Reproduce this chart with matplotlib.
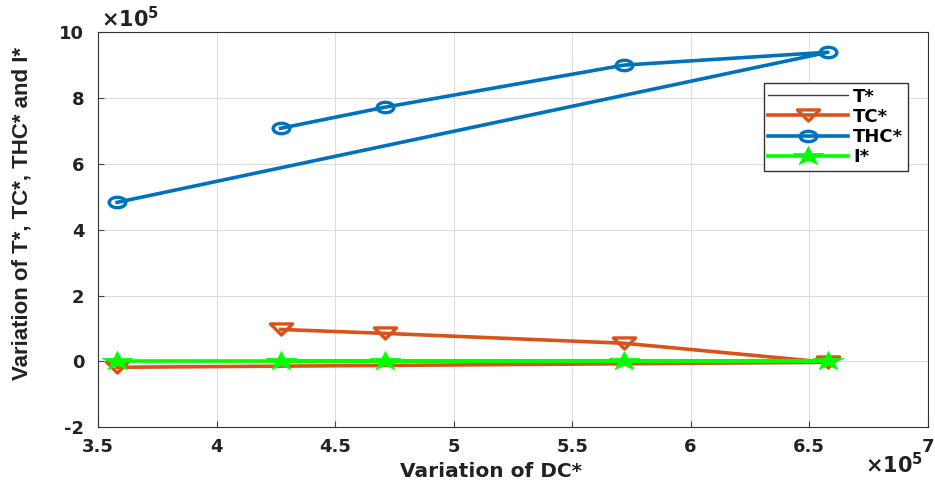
import matplotlib.pyplot as plt
from matplotlib.ticker import FuncFormatter
from matplotlib.markers import MarkerStyle
from matplotlib.transforms import Affine2D

plt.rcParams['font.family'] = ['DejaVu Sans']
plt.rcParams['font.weight'] = 'bold'
plt.rcParams['axes.labelweight'] = 'bold'
plt.rcParams['mathtext.default'] = 'bf'

# --- Datos ---
dc = [427000, 471000, 572000, 658000, 358000]
t_star = [0, 0, 0, 0, 0]
tc_star = [97000, 85000, 55000, -3000, -18000]
thc_star = [708000, 772000, 900000, 939000, 483000]
i_star = [0, 0, 0, 0, 0]

x_ticks = [350000, 400000, 450000, 500000, 550000, 600000, 650000, 700000]
y_ticks = [-200000, 0, 200000, 400000, 600000, 800000, 1000000]


def marcador_ancho(simbolo, factor=1.6):
    # la imagen original esta estirada en horizontal
    m = MarkerStyle(simbolo)
    return m.get_path().transformed(m.get_transform() + Affine2D().scale(factor, 1))


fig = plt.figure(figsize=(9.35, 4.8), dpi=100)
ax = fig.add_axes([0.105, 0.11, 0.887, 0.823])

ax.plot(dc, t_star, '-', color='#444444', lw=1, label='T*', zorder=2)
ax.plot(dc, tc_star, '-', marker=marcador_ancho('v', 2.0), color='#D95319', lw=2.6,
        ms=16, mfc='none', mew=2.4, label='TC*', zorder=3)
ax.plot(dc, thc_star, '-', marker=marcador_ancho('o', 1.6), color='#0072BD', lw=2.6,
        ms=12, mfc='none', mew=2.4, label='THC*', zorder=3)
ax.plot(dc, i_star, '-', marker=marcador_ancho('*', 1.6), color='#00FF00', lw=2.6,
        ms=22, mew=0.5, label='I*', zorder=4)

ax.set_xlim(350000, 700000)
ax.set_ylim(-200000, 1000000)
ax.set_xticks(x_ticks)
ax.set_yticks(y_ticks)

# etiquetas en unidades de 10^5, estilo MATLAB
escala = FuncFormatter(lambda v, p: '%g' % (v / 1e5))
ax.xaxis.set_major_formatter(escala)
ax.yaxis.set_major_formatter(escala)
ax.text(0.003, 1.003, r'$\times$10$^5$', transform=ax.transAxes,
        fontsize=15, color='#222222', ha='left', va='bottom')
ax.text(0.995, -0.062, r'$\times$10$^5$', transform=ax.transAxes,
        fontsize=15, color='#222222', ha='right', va='top')

ax.tick_params(labelsize=13, direction='in', length=4, color='#444444',
               labelcolor='#222222')
ax.tick_params(axis='x', pad=8)
ax.tick_params(axis='y', pad=10)
ax.grid(True, color='#dddddd', lw=0.8)
ax.set_axisbelow(True)
for s in ax.spines.values():
    s.set_color('#333333')

ax.set_xlabel('Variation of DC*', fontsize=14.5, fontweight='bold', color='#222222')
ax.xaxis.set_label_coords(0.474, -0.088)
ax.set_ylabel('Variation of T*, TC*, THC* and I*', fontsize=16, fontweight='bold',
              color='#222222',
              family=['Liberation Sans Narrow', 'Liberation Sans', 'DejaVu Sans'])
ax.yaxis.set_label_coords(-0.079, 0.542)

leg = ax.legend(loc='upper right', bbox_to_anchor=(0.976, 0.871),
                handlelength=4.4, fancybox=False, framealpha=1, borderpad=0.25,
                labelspacing=0.12, handletextpad=0.3, borderaxespad=0,
                prop={'weight': 'bold', 'size': 13})
leg.get_frame().set_edgecolor('#333333')

fig.savefig('out.png', dpi=100)
